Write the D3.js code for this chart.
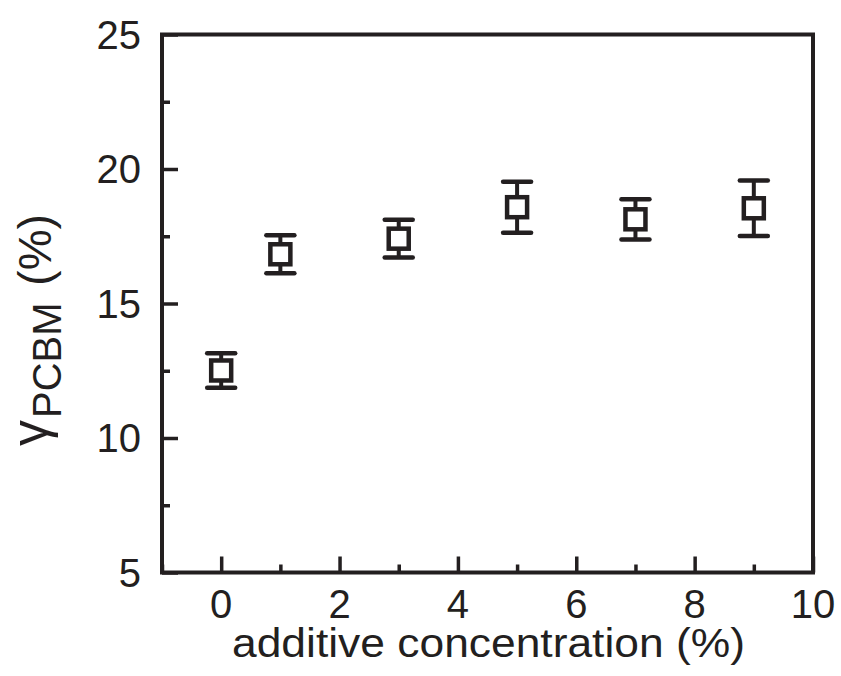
<!DOCTYPE html>
<html><head><meta charset="utf-8">
<script src="https://cdn.jsdelivr.net/npm/d3@7"></script>
<style>body{margin:0;background:#fff}svg{display:block}</style>
</head><body>
<script>
const concentration = [0, 1, 3, 5, 7, 9];
const gammaPCBM = [12.51, 16.83, 17.41, 18.58, 18.13, 18.54];
const gammaErr = [0.64, 0.71, 0.70, 0.95, 0.75, 1.03];
const xMajorTicks = [0, 2, 4, 6, 8, 10];
const xMinorTicks = [-1, 1, 3, 5, 7, 9];
const yMajorTicks = [5, 10, 15, 20, 25];
const yMinorTicks = [7.5, 12.5, 17.5, 22.5];

const W = 841, H = 676;
const ink = "#231f20";
const font = "Liberation Sans, Arial, sans-serif";
const pL = 162, pR = 813, pT = 34.5, pB = 572.5;
const svg = d3.select("body").append("svg").attr("width", W).attr("height", H);
const x = d3.scaleLinear().domain([-1, 10]).range([pL, pR]);
const y = d3.scaleLinear().domain([5, 25]).range([pB, pT]);

// x axis
const gx = svg.append("g").attr("transform", `translate(0,${pB})`);
gx.call(d3.axisTop(x).tickValues(xMajorTicks).tickSize(16).tickFormat(""));
gx.call(g => g.select(".domain").remove());
gx.selectAll("line").attr("stroke", ink).attr("stroke-width", 3.5);
const gxm = svg.append("g").attr("transform", `translate(0,${pB})`);
gxm.call(d3.axisTop(x).tickValues(xMinorTicks).tickSize(8).tickFormat(""));
gxm.call(g => g.select(".domain").remove());
gxm.selectAll("line").attr("stroke", ink).attr("stroke-width", 3.5);
svg.append("g").selectAll("text").data(xMajorTicks).join("text")
  .attr("x", d => x(d)).attr("y", 618).attr("text-anchor", "middle")
  .attr("font-family", font).attr("font-size", 40)
  .attr("fill", ink).text(d => d);

// y axis
const gy = svg.append("g").attr("transform", `translate(${pL},0)`);
gy.call(d3.axisRight(y).tickValues(yMajorTicks).tickSize(16).tickFormat(""));
gy.call(g => g.select(".domain").remove());
gy.selectAll("line").attr("stroke", ink).attr("stroke-width", 3.5);
const gym = svg.append("g").attr("transform", `translate(${pL},0)`);
gym.call(d3.axisRight(y).tickValues(yMinorTicks).tickSize(8).tickFormat(""));
gym.call(g => g.select(".domain").remove());
gym.selectAll("line").attr("stroke", ink).attr("stroke-width", 3.5);
svg.append("g").selectAll("text").data(yMajorTicks).join("text")
  .attr("x", 141).attr("y", d => y(d) + 14).attr("text-anchor", "end")
  .attr("font-family", font).attr("font-size", 40)
  .attr("fill", ink).text(d => d);

// frame
svg.append("rect").attr("x", pL).attr("y", pT)
  .attr("width", pR - pL).attr("height", pB - pT)
  .attr("fill", "none").attr("stroke", ink).attr("stroke-width", 4);

// error bars + markers
const pts = concentration.map((c, i) => ({c, v: gammaPCBM[i], e: gammaErr[i]}));
const gp = svg.append("g");
gp.selectAll("line.v").data(pts).join("line").attr("class", "v")
  .attr("x1", d => x(d.c)).attr("x2", d => x(d.c))
  .attr("y1", d => y(d.v + d.e)).attr("y2", d => y(d.v - d.e))
  .attr("stroke", ink).attr("stroke-width", 4);
["hi", "lo"].forEach(k => {
  gp.selectAll("line." + k).data(pts).join("line").attr("class", k)
    .attr("x1", d => x(d.c) - 14).attr("x2", d => x(d.c) + 14)
    .attr("y1", d => y(k === "hi" ? d.v + d.e : d.v - d.e))
    .attr("y2", d => y(k === "hi" ? d.v + d.e : d.v - d.e))
    .attr("stroke", ink).attr("stroke-width", 4.5).attr("stroke-linecap", "round");
});
gp.selectAll("rect").data(pts).join("rect")
  .attr("x", d => x(d.c) - 10).attr("y", d => y(d.v) - 10)
  .attr("width", 20).attr("height", 20)
  .attr("fill", "#fff").attr("stroke", ink).attr("stroke-width", 4.5);

// axis titles
svg.append("text").attr("x", 232).attr("y", 657)
  .attr("textLength", 513).attr("lengthAdjust", "spacingAndGlyphs")
  .attr("font-family", font).attr("font-size", 40)
  .attr("fill", ink).text("additive concentration (%)");

const yl = svg.append("text").attr("transform", "translate(47,446) rotate(-90)")
  .attr("text-anchor", "start")
  .attr("font-family", font).attr("fill", ink);
yl.append("tspan").attr("font-size", 52).text("γ");
yl.append("tspan").attr("font-size", 40).attr("dx", 2).attr("dy", 14).text("PCBM");
yl.append("tspan").attr("font-size", 46).attr("dx", 4).attr("dy", -10).text(" (%)");
</script>
</body></html>
